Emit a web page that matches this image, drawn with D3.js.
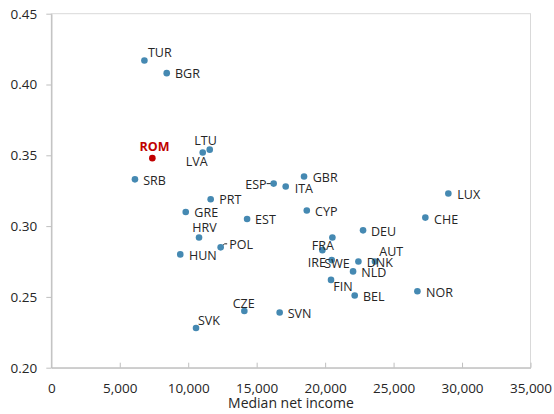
<!DOCTYPE html>
<html>
<head>
<meta charset="utf-8">
<script src="https://cdn.jsdelivr.net/npm/d3@7"></script>
<style>
  body { margin: 0; background: #fff; }
  svg { display: block; font-family: "Open Sans", "Noto Sans", sans-serif; }
</style>
</head>
<body>
<svg id="chart" width="554" height="414"></svg>
<script>
// ---- data ----
const countries = ["TUR","BGR","ROM","LTU","LVA","SRB","ESP","PRT","GRE","EST","HRV","POL","HUN","CZE","SVK","SVN","GBR","ITA","LUX","CYP","CHE","DEU","FRA","IRE","SWE","DNK","AUT","NLD","FIN","BEL","NOR"];
const income    = [6800, 8430, 7380, 11570, 11060, 6110, 16240, 11640, 9820, 14300, 10790, 12370, 9420, 14100, 10570, 16680, 18460, 17120, 29000, 18660, 27320, 22770, 20530, 19800, 20480, 22430, 23640, 22040, 20430, 22160, 26740];
const gini      = [0.417, 0.408, 0.348, 0.354, 0.352, 0.333, 0.330, 0.319, 0.310, 0.305, 0.292, 0.285, 0.280, 0.240, 0.228, 0.239, 0.335, 0.328, 0.323, 0.311, 0.306, 0.297, 0.292, 0.283, 0.276, 0.275, 0.275, 0.268, 0.262, 0.251, 0.254];
const highlight = ["ROM"];
const xTicks = [0, 5000, 10000, 15000, 20000, 25000, 30000, 35000];
const yTicks = [0.20, 0.25, 0.30, 0.35, 0.40, 0.45];
const xTitle = "Median net income";

// label placement (pixel offsets from the point: [dx, dy, anchor])
const labelPlacement = {
  TUR:[3.5,-3.4,"start"], BGR:[8.3,5,"start"], ROM:[2.2,-7.6,"middle"], LTU:[-15.4,-4.3,"start"],
  LVA:[-17,14,"start"], SRB:[8.3,5.3,"start"], ESP:[-7,5,"end"], PRT:[8.6,4.7,"start"],
  GRE:[8.6,5.4,"start"], EST:[8,5.4,"start"], HRV:[-6.7,-5.4,"start"], POL:[8.6,1.3,"start"],
  HUN:[8.7,5.7,"start"], CZE:[-11.6,-3,"start"], SVK:[2,-3,"start"], SVN:[8,5.3,"start"],
  GBR:[8.7,5.6,"start"], ITA:[9,6.4,"start"], LUX:[9,5.6,"start"], CYP:[8.3,5,"start"],
  CHE:[8.7,6,"start"], DEU:[8,5.3,"start"], FRA:[-20.6,12.3,"start"], IRE:[-14.6,17.3,"start"],
  SWE:[-7.4,7.7,"start"], DNK:[8.4,5,"start"], AUT:[4.3,-6,"start"], NLD:[8.3,5.3,"start"],
  FIN:[2.3,11,"start"], BEL:[8.3,5.3,"start"], NOR:[8.7,5.7,"start"]
};

const points = countries.map((c, i) => ({ c, x: income[i], y: gini[i] }));

// ---- layout ----
const W = 554, H = 414;
const m = { left: 51.3, right: 23.5, top: 13.7, bottom: 46.3 };
const svg = d3.select("#chart");

const x = d3.scaleLinear().domain([0, 35000]).range([m.left, W - m.right]);
const y = d3.scaleLinear().domain([0.20, 0.45]).range([H - m.bottom, m.top]);

// plot frame
svg.append("rect")
  .attr("x", m.left).attr("y", m.top)
  .attr("width", x(35000) - m.left).attr("height", y(0.20) - m.top)
  .attr("fill", "none").attr("stroke", "#d9d9d9").attr("stroke-width", 1);

// axes
const xAxis = svg.append("g")
  .attr("transform", `translate(0,${y(0.20)})`)
  .call(d3.axisBottom(x).tickValues(xTicks).tickFormat(d3.format(",")).tickSize(-5).tickSizeOuter(0).tickPadding(16));
const yAxis = svg.append("g")
  .attr("transform", `translate(${m.left},0)`)
  .call(d3.axisLeft(y).tickValues(yTicks).tickFormat(d3.format(".2f")).tickSize(5).tickSizeOuter(0).tickPadding(9));

[xAxis, yAxis].forEach(g => {
  g.select(".domain").attr("stroke", "#bfbfbf").attr("stroke-width", 1.3);
  g.selectAll(".tick line").attr("stroke", "#bfbfbf");
  g.selectAll(".tick text").attr("fill", "#262626").style("font-size", "13.5px")
    .style("font-family", "\"Open Sans\", sans-serif");
});
xAxis.selectAll(".tick").filter(d => d === 0).select("line").remove();

// axis title
svg.append("text")
  .attr("x", (x(0) + x(35000)) / 2).attr("y", 407.5)
  .attr("text-anchor", "middle")
  .attr("fill", "#262626").style("font-size", "14px")
  .text(xTitle);

// leader lines
const lead = svg.append("g").attr("stroke", "#262626").attr("stroke-width", 1);
const esp = points.find(p => p.c === "ESP");
lead.append("line").attr("x1", x(esp.x) - 7).attr("x2", x(esp.x) - 2.5)
  .attr("y1", y(esp.y)).attr("y2", y(esp.y));
const pol = points.find(p => p.c === "POL");
lead.append("line").attr("x1", x(pol.x) + 1).attr("x2", x(pol.x) + 4)
  .attr("y1", y(pol.y) - 1).attr("y2", y(pol.y) - 3.5);
lead.append("line").attr("x1", x(pol.x) + 4).attr("x2", x(pol.x) + 6.5)
  .attr("y1", y(pol.y) - 3.5).attr("y2", y(pol.y) - 3.5);

// points
svg.append("g").selectAll("circle").data(points).join("circle")
  .attr("cx", d => x(d.x)).attr("cy", d => y(d.y)).attr("r", 3.3)
  .attr("fill", d => highlight.includes(d.c) ? "#c00000" : "#4589b2");

// labels
svg.append("g").selectAll("text").data(points).join("text")
  .attr("x", d => x(d.x) + labelPlacement[d.c][0])
  .attr("y", d => y(d.y) + labelPlacement[d.c][1])
  .attr("text-anchor", d => labelPlacement[d.c][2])
  .attr("fill", d => highlight.includes(d.c) ? "#c00000" : "#262626")
  .style("font-weight", d => highlight.includes(d.c) ? "bold" : "normal")
  .style("font-size", "12.5px")
  .text(d => d.c);
</script>
</body>
</html>
